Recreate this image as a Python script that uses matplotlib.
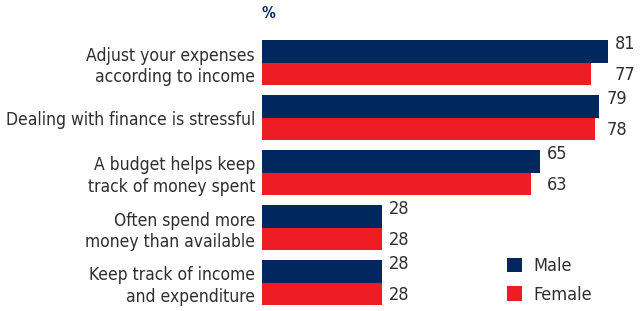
import numpy as np
import matplotlib.pyplot as plt

categories = ['Adjust your expenses\naccording to income',
              'Dealing with finance is stressful',
              'A budget helps keep\ntrack of money spent',
              'Often spend more\nmoney than available',
              'Keep track of income\nand expenditure']
male = [81, 79, 65, 28, 28]
female = [77, 78, 63, 28, 28]
series_names = ['Male', 'Female']

NAVY = '#00275E'
RED = '#EE1C25'
TXT = '#2E2E2E'

plt.rcParams['font.family'] = ['DejaVu Sans']
plt.rcParams['font.stretch'] = 'condensed'

fig = plt.figure(figsize=(6.41, 3.11), dpi=100)
ax = fig.add_axes([262/641, 6/311, 1 - 262/641, 265/311])

h = 22.5/55
y = np.arange(len(categories))
ax.barh(y - h/2, male, height=h, color=NAVY, label=series_names[0])
ax.barh(y + h/2, female, height=h, color=RED, label=series_names[1])

ax.set_xlim(0, (641 - 262)/4.27)
ax.set_ylim(len(categories) - 1 + h, -h)

ax.set_yticks(y)
ax.set_yticklabels(categories, fontsize=12.5, color=TXT, linespacing=1.25)
ax.tick_params(axis='y', length=0, pad=5)
ax.set_xticks([])
for s in ax.spines.values():
    s.set_visible(False)

# value labels, both in a group sit at the same x
for i in range(len(categories)):
    xm = max(male[i], female[i])
    ax.annotate(str(male[i]), (xm, y[i] - h/2), xytext=(5, 5), textcoords='offset points',
                va='center', ha='left', fontsize=13, color=TXT)
    ax.annotate(str(female[i]), (xm, y[i] + h/2), xytext=(5, -1), textcoords='offset points',
                va='center', ha='left', fontsize=13, color=TXT)

fig.text(262/641, 1 - 13/311, '%', color=NAVY, fontsize=11, fontweight='bold', va='center', ha='left')

fig.legend(loc='upper left', bbox_to_anchor=(507/641, 1 - 257/311), frameon=False,
           borderpad=0, borderaxespad=0, handlelength=0.85, handleheight=0.85,
           handletextpad=0.6, labelspacing=0.6, fontsize=13, labelcolor=TXT)

plt.savefig('out.png', dpi=100)
